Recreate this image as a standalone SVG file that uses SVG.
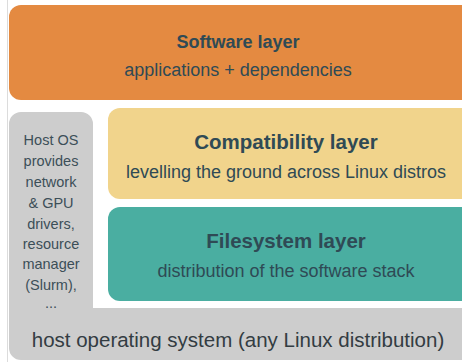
<svg xmlns="http://www.w3.org/2000/svg" width="462" height="362" viewBox="0 0 462 362">
<style>
.t{font-family:"Liberation Sans",Arial,Helvetica,sans-serif;fill:#2f4a55;text-anchor:middle}
.b{font-weight:bold}
.s{font-size:18px}
.h{font-size:20.5px}
.l{font-size:14.5px;fill:#3c4f58}
</style>
<rect width="462" height="362" fill="#ffffff"/>
<line x1="7.5" y1="0" x2="7.5" y2="362" stroke="#dcdcdc" stroke-width="1"/>
<g id="host-os">
<path d="M21,112 H81 A12,12 0 0 1 93,124 V308 H462 V360 H21 A12,12 0 0 1 9,348 V124 A12,12 0 0 1 21,112 Z" fill="#cdcdcd"/>
<text class="t l" x="51" y="145">Host OS</text>
<text class="t l" x="51" y="166">provides</text>
<text class="t l" x="51" y="187">network</text>
<text class="t l" x="51" y="208">&amp; GPU</text>
<text class="t l" x="51" y="229">drivers,</text>
<text class="t l" x="51" y="249">resource</text>
<text class="t l" x="51" y="269">manager</text>
<text class="t l" x="51" y="290">(Slurm),</text>
<text class="t l" x="51" y="308">...</text>
<text class="t" x="238" y="347" style="font-size:20.5px;fill:#333c42">host operating system (any Linux distribution)</text>
</g>
<g id="software">
<rect x="9" y="5" width="466" height="95" rx="12" fill="#e48a41"/>
<text class="t b" x="238" y="48" style="font-size:18px">Software layer</text>
<text class="t s" x="238" y="76">applications + dependencies</text>
</g>
<g id="compat">
<rect x="108" y="108" width="366" height="91" rx="12" fill="#f1d48c"/>
<text class="t b h" x="286" y="149">Compatibility layer</text>
<text class="t s" x="286" y="178">levelling the ground across Linux distros</text>
</g>
<g id="filesystem">
<rect x="108" y="207" width="366" height="94" rx="12" fill="#4aaea1"/>
<text class="t b h" x="286" y="248">Filesystem layer</text>
<text class="t s" x="286" y="277">distribution of the software stack</text>
</g>
<g id="connectors"></g>
</svg>
